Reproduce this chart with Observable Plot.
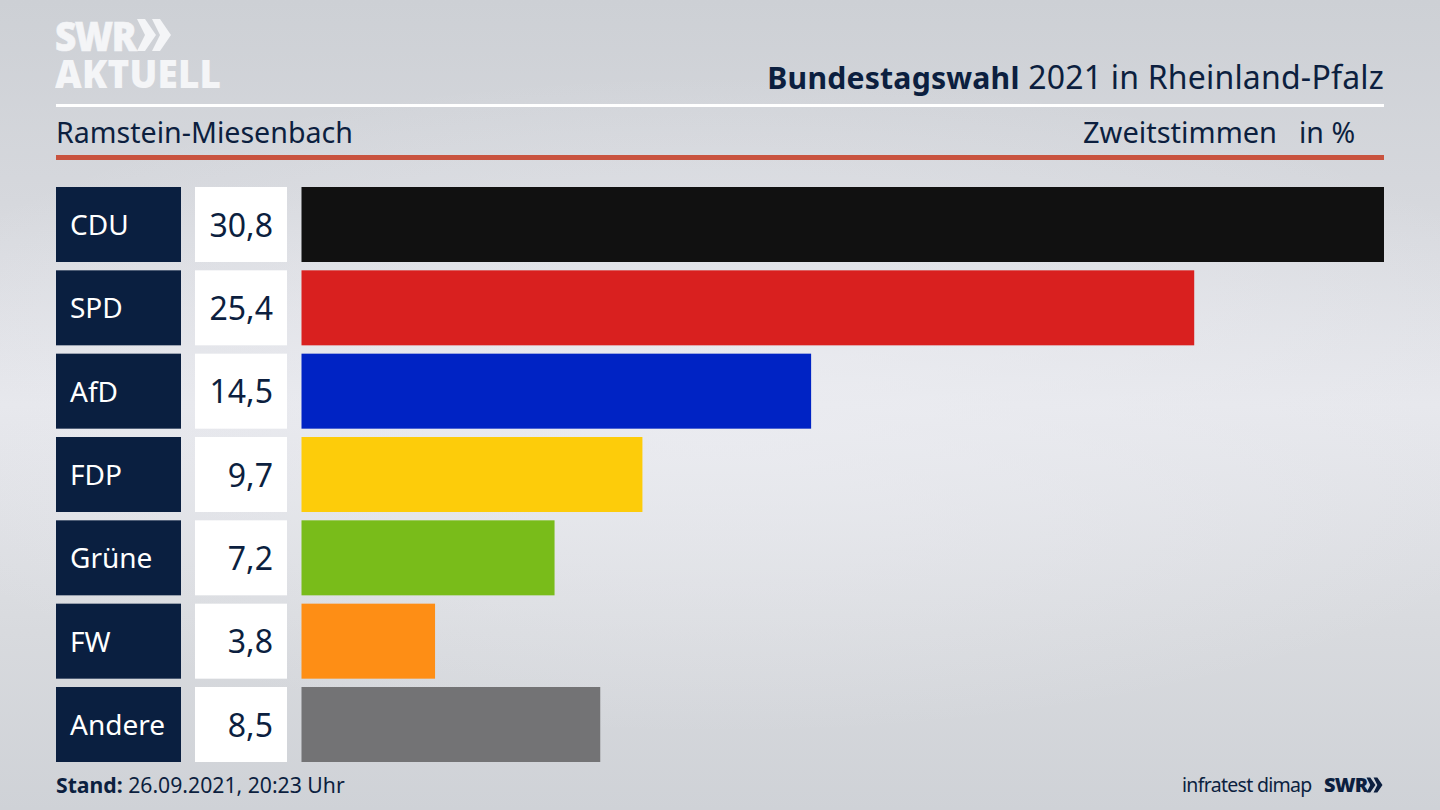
<!DOCTYPE html>
<html lang="de">
<head>
<meta charset="utf-8">
<script src="https://cdn.jsdelivr.net/npm/d3@7"></script>
<script src="https://cdn.jsdelivr.net/npm/@observablehq/plot@0.6"></script>
<style>
  html, body { margin: 0; padding: 0; }
  body {
    width: 1440px; height: 810px; overflow: hidden; position: relative;
    font-family: "Noto Sans", sans-serif; color: #0c1f3f;
    background:
      radial-gradient(ellipse 900px 330px at 50% 50%, rgba(236,237,242,.75), rgba(236,237,242,0)),
      linear-gradient(180deg, #cdd0d5 0%, #d6d8dd 25%, #e6e7ec 50%, #d8dade 78%, #cfd2d7 100%);
  }
  header { position: relative; height: 187px; }
  header > * { position: absolute; }
  #swr { left: 55px; top: 17px; font: 800 41px/36px "Open Sans", sans-serif; color: #f4f5f7; letter-spacing: -1.6px; -webkit-text-stroke: .6px #f4f5f7; transform: scaleX(.9); transform-origin: left center; }
  #aktuell { left: 55px; top: 55px; font: 800 38px/36px "Open Sans", sans-serif; color: #f4f5f7; letter-spacing: .2px; transform: scaleX(.97); transform-origin: left center; }
  #chev { left: 137px; top: 18px; }
  #title { right: 56px; top: 55px; font-size: 32px; line-height: 44px; white-space: nowrap; letter-spacing: .2px; margin: 0; font-weight: 400; }
  #title b { font-weight: 700; font-size: 30.2px; }
  #rule1 { left: 56px; top: 104px; width: 1328px; height: 3px; background: #fff; }
  #place { left: 56px; top: 112px; font-size: 28.6px; line-height: 40px; white-space: nowrap; }
  #stimmen { left: 1083px; top: 112px; font-size: 29px; line-height: 40px; white-space: nowrap; }
  #pct { left: 1299px; top: 112px; font-size: 28.5px; line-height: 40px; white-space: nowrap; }
  #rule2 { left: 56px; top: 155px; width: 1328px; height: 5px; background: #c9533f; }
  #chart svg { display: block; background: transparent; }
  footer { position: relative; height: 48px; }
  footer > * { position: absolute; white-space: nowrap; }
  #stand { left: 56px; top: 8px; font-size: 21.2px; line-height: 30px; }
  #source { left: 1182px; top: 8px; font-size: 19.5px; line-height: 30px; letter-spacing: -.7px; }
  #swr2 { left: 1324px; top: 8px; font: 800 20px/30px "Open Sans", sans-serif; letter-spacing: -.8px; }
  #chev2 { left: 1365px; top: 15px; }
</style>
</head>
<body>
<header>
  <div id="swr">SWR</div>
  <svg id="chev" width="34" height="34" viewBox="0 0 34 34"><path fill="#f4f5f7" d="M0 1h8l11 16-11 16H0l8-16zM15 1h8l11 16-11 16h-8l8-16z"/></svg>
  <div id="aktuell">AKTUELL</div>
  <h1 id="title"><b>Bundestagswahl</b> 2021 in Rheinland-Pfalz</h1>
  <div id="rule1"></div>
  <div id="place">Ramstein-Miesenbach</div>
  <div id="stimmen">Zweitstimmen</div>
  <div id="pct">in %</div>
  <div id="rule2"></div>
</header>
<div id="chart"></div>
<footer>
  <div id="stand"><b>Stand:</b> 26.09.2021, 20:23 Uhr</div>
  <div id="source">infratest dimap</div>
  <div id="swr2">SWR</div>
  <svg id="chev2" width="19" height="16" viewBox="0 0 34 34"><path fill="#0c1f3f" d="M0 1h8l11 16-11 16H0l8-16zM15 1h8l11 16-11 16h-8l8-16z"/></svg>
</footer>
<script>
const parties = ["CDU", "SPD", "AfD", "FDP", "Grüne", "FW", "Andere"];
const shares = [30.8, 25.4, 14.5, 9.7, 7.2, 3.8, 8.5];
const partyColors = ["#111111", "#d9201f", "#0023c4", "#fdcc0a", "#79bc1a", "#fe8e15", "#737375"];

const rows = parties.map((party, i) => ({party, share: shares[i]}));

// The x scale runs past zero to the left, to hold the name and value columns.
const pxPerPoint = (1384 - 301.5) / 30.8;
const col = px => (px - 301.5) / pxPerPoint;
const navy = "#0a1f40";

const chart = Plot.plot({
  width: 1440, height: 575,
  marginTop: 0, marginRight: 0, marginBottom: 0, marginLeft: 0,
  style: {background: "transparent"},
  x: {domain: [col(56), 30.8], range: [56, 1384], axis: null},
  y: {domain: parties, range: [0, 575], paddingInner: 0.1, paddingOuter: 0, round: false, axis: null},
  color: {domain: parties, range: partyColors},
  marks: [
    Plot.barX(rows, {y: "party", x1: col(56), x2: col(181), fill: navy}),
    Plot.barX(rows, {y: "party", x1: col(195), x2: col(287), fill: "#ffffff"}),
    Plot.barX(rows, {y: "party", x1: 0, x2: "share", fill: "party"}),
    Plot.text(rows, {y: "party", x: col(69.5), dy: 1, text: "party", textAnchor: "start", fill: "#ffffff", fontSize: 28, fontFamily: "Noto Sans"}),
    Plot.text(rows, {y: "party", x: col(272.5), dy: 1.5, text: d => d.share.toFixed(1).replace(".", ","), textAnchor: "end", fill: "#0c1f3f", fontSize: 32, fontFamily: "Noto Sans"})
  ]
});
document.getElementById("chart").append(chart);
</script>
</body>
</html>
